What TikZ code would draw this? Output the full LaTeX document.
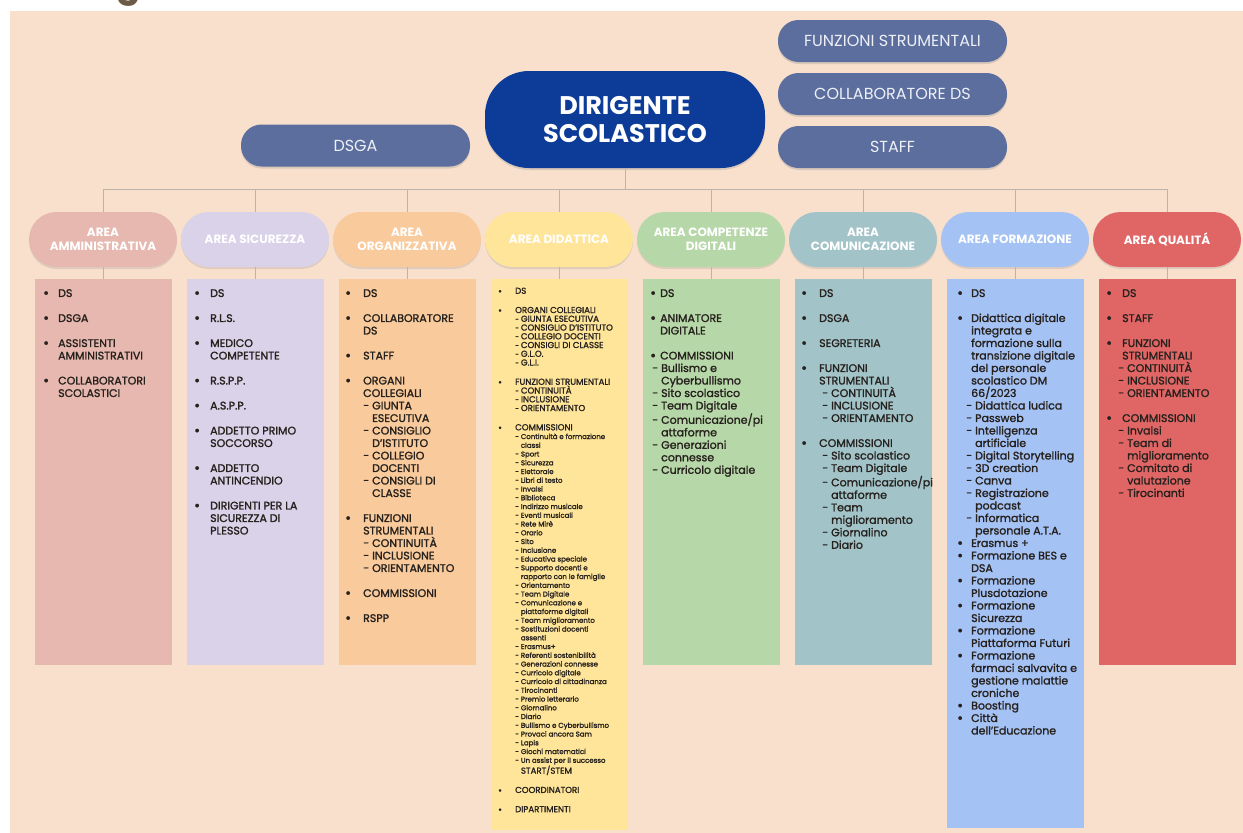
\documentclass[tikz,border=0pt]{standalone}
\usepackage{fontspec}
\setmainfont{Poppins}
\newfontfamily\listfont{Poppins}[FakeBold=1.5]
\usetikzlibrary{shadows}

\definecolor{peach}{HTML}{F8E0CD}
\definecolor{navy}{HTML}{0C3C98}
\definecolor{slate}{HTML}{5B6E9E}
\definecolor{linec}{HTML}{BDB3A9}
\definecolor{txt}{HTML}{26211D}
\definecolor{pilltxt}{HTML}{EEF0F6}
\definecolor{titlec}{HTML}{6B5A46}
\definecolor{cAmm}{HTML}{E6B8AF}
\definecolor{cSic}{HTML}{D9D2E9}
\definecolor{cOrg}{HTML}{F9CB9C}
\definecolor{cDid}{HTML}{FFE599}
\definecolor{cDig}{HTML}{B6D7A8}
\definecolor{cCom}{HTML}{A2C4C9}
\definecolor{cFor}{HTML}{A4C2F4}
\definecolor{cQua}{HTML}{E06666}

% bullet lists
\newlength\bw
\newlength\dx
\newlength\dsw
\newlength\lgap
\newcommand{\bi}[1]{\makebox[\bw][l]{\raisebox{-0.08em}{\scalebox{1.3}{\textbullet}}}#1}
\newcommand{\bc}[1]{\hspace*{\bw}#1}
\newcommand{\di}[1]{\hspace*{\dx}- #1}
\newcommand{\dc}[1]{\hspace*{\dx}\hspace*{\dsw}#1}
\newcommand{\uc}[1]{{\fontsize{8.6}{8.75}\selectfont #1}}

\tikzset{
  conn/.style={draw=linec, line width=0.7pt},
  boss/.style={fill=navy, text=white, rounded corners=44pt, minimum width=280pt,
    minimum height=97pt, inner sep=0pt, align=center,
    font=\fontsize{25.5}{28}\selectfont\bfseries,
    drop shadow={opacity=0.25, shadow xshift=0pt, shadow yshift=-2pt}},
  aux/.style={fill=slate, text=pilltxt, rounded corners=20.5pt, minimum width=229pt,
    minimum height=42pt, inner sep=0pt, font=\fontsize{16}{18}\selectfont,
    drop shadow={opacity=0.25, shadow xshift=0pt, shadow yshift=-2pt}},
  area/.style={rounded corners=27.5pt, minimum width=148pt, minimum height=55pt,
    inner sep=0pt, align=center, text=white,
    font=\fontsize{12}{14.5}\selectfont\bfseries,
    drop shadow={opacity=0.2, shadow xshift=0pt, shadow yshift=-2pt}},
  panel/.style={minimum width=137pt, inner sep=0pt, anchor=north},
  list/.style n args={5}{font={\listfont\fontsize{#1}{#2}\selectfont
    \setlength\lgap{#3pt}\setlength\bw{#4pt}\setlength\dx{#5pt}\settowidth\dsw{- }},
    align=left, inner sep=0pt, anchor=north west, text=txt}
}

\begin{document}
\begin{tikzpicture}[x=1pt, y=-1pt]
\useasboundingbox (0,0) rectangle (1243,833);
\fill[white] (0,0) rectangle (1243,833);
\fill[peach] (10,11) rectangle (1243,833);

% tail of the page title, cut by the top edge
\begin{scope}
\clip (0,0) rectangle (1243,11);
\node[font=\fontsize{36}{36}\selectfont\bfseries, text=titlec, anchor=base] (ttl) at (129,-3.5) {g};
\end{scope}

\node[boss] (ds) at (625,119.5) {DIRIGENTE\\SCOLASTICO};
\node[aux] (dsga) at (355.5,145.5) {DSGA};
\node[aux] (fs) at (892.5,41) {FUNZIONI STRUMENTALI};
\node[aux] (cds) at (892.5,94) {COLLABORATORE DS};
\node[aux] (staff) at (892.5,147) {STAFF};

\coordinate (bus) at (0,189);
\draw[conn] (ds) -- (ds |- bus);

\foreach \nm/\col/\hgt/\lbl [count=\i from 0] in {
  amm/cAmm/386/{AREA\\AMMINISTRATIVA},
  sic/cSic/386/{AREA SICUREZZA},
  org/cOrg/386/{AREA\\ORGANIZZATIVA},
  did/cDid/551/{AREA DIDATTICA},
  dig/cDig/386/{AREA COMPETENZE\\DIGITALI},
  com/cCom/386/{AREA\\COMUNICAZIONE},
  for/cFor/549/{AREA FORMAZIONE},
  qua/cQua/386/{AREA QUALITÁ}} {
  \node[area, fill=\col] (p\nm) at ({103+152*\i},239.5) {\lbl};
  \node[panel, fill=\col, minimum height=\hgt pt] (b\nm) at ({103+152*\i},279) {};
  \draw[conn] (p\nm.north) -- (p\nm.north |- bus);
  \draw[conn] (p\nm) -- (b\nm);
}
\draw[conn] (pamm.north |- bus) -- (pqua.north |- bus);

% contents of the areas
\node[list={11}{12.5}{12.5}{15}{15}] (tamm) at (43,289) {%
\bi{DS}\\[\lgap]
\bi{DSGA}\\[\lgap]
\bi{ASSISTENTI}\\
\bc{AMMINISTRATIVI}\\[\lgap]
\bi{COLLABORATORI}\\
\bc{SCOLASTICI}};

\node[list={11}{12.5}{12.5}{16}{16}] (tsic) at (194,289) {%
\bi{DS}\\[\lgap]
\bi{R.L.S.}\\[\lgap]
\bi{MEDICO}\\
\bc{COMPETENTE}\\[\lgap]
\bi{R.S.P.P.}\\[\lgap]
\bi{A.S.P.P.}\\[\lgap]
\bi{ADDETTO PRIMO}\\
\bc{SOCCORSO}\\[\lgap]
\bi{ADDETTO}\\
\bc{ANTINCENDIO}\\[\lgap]
\bi{DIRIGENTI PER LA}\\
\bc{SICUREZZA DI}\\
\bc{PLESSO}};

\node[list={11}{12.5}{12.5}{18}{18}] (torg) at (345,289) {%
\bi{DS}\\[\lgap]
\bi{COLLABORATORE}\\
\bc{DS}\\[\lgap]
\bi{STAFF}\\[\lgap]
\bi{ORGANI}\\
\bc{COLLEGIALI}\\
\di{GIUNTA}\\
\dc{ESECUTIVA}\\
\di{CONSIGLIO}\\
\dc{D’ISTITUTO}\\
\di{COLLEGIO}\\
\dc{DOCENTI}\\
\di{CONSIGLI DI}\\
\dc{CLASSE}\\[\lgap]
\bi{FUNZIONI}\\
\bc{STRUMENTALI}\\
\di{CONTINUITÀ}\\
\di{INCLUSIONE}\\
\di{ORIENTAMENTO}\\[\lgap]
\bi{COMMISSIONI}\\[\lgap]
\bi{RSPP}};

\node[list={7}{8.75}{10.5}{17}{17}] (tdid) at (498,287.5) {%
\bi{\uc{DS}}\\[\lgap]
\bi{\uc{ORGANI COLLEGIALI}}\\
\di{\uc{GIUNTA ESECUTIVA}}\\
\di{\uc{CONSIGLIO D’ISTITUTO}}\\
\di{\uc{COLLEGIO DOCENTI}}\\
\di{\uc{CONSIGLI DI CLASSE}}\\
\di{\uc{G.L.O.}}\\
\di{\uc{G.L.I.}}\\[\lgap]
\bi{\uc{FUNZIONI STRUMENTALI}}\\
\di{\uc{CONTINUITÀ}}\\
\di{\uc{INCLUSIONE}}\\
\di{\uc{ORIENTAMENTO}}\\[\lgap]
\bi{\uc{COMMISSIONI}}\\
\di{Continuità e formazione}\\
\dc{classi}\\
\di{Sport}\\
\di{Sicurezza}\\
\di{Elettorale}\\
\di{Libri di testo}\\
\di{Invalsi}\\
\di{Biblioteca}\\
\di{Indirizzo musicale}\\
\di{Eventi musicali}\\
\di{Rete Mirè}\\
\di{Orario}\\
\di{Sito}\\
\di{Inclusione}\\
\di{Educativa speciale}\\
\di{Supporto docenti e}\\
\dc{rapporto con le famiglie}\\
\di{Orientamento}\\
\di{Team Digitale}\\
\di{Comunicazione e}\\
\dc{piattaforme digitali}\\
\di{Team miglioramento}\\
\di{Sostituzioni docenti}\\
\dc{assenti}\\
\di{Erasmus+}\\
\di{Referenti sostenibilità}\\
\di{Generazioni connesse}\\
\di{Curricolo digitale}\\
\di{Curricolo di cittadinanza}\\
\di{Tirocinanti}\\
\di{Premio letterario}\\
\di{Giornalino}\\
\di{Diario}\\
\di{Bullismo e Cyberbullismo}\\
\di{Provaci ancora Sam}\\
\di{Lapis}\\
\di{Giochi matematici}\\
\di{Un assist per il successo}\\
\dc{\uc{START/STEM}}\\[\lgap]
\bi{\uc{COORDINATORI}}\\[\lgap]
\bi{\uc{DIPARTIMENTI}}};

\node[list={11}{12.5}{12.5}{10}{2}] (tdig) at (650,289) {%
\bi{DS}\\[\lgap]
\bi{ANIMATORE}\\
\bc{DIGITALE}\\[\lgap]
\bi{COMMISSIONI}\\
\di{Bullismo e}\\
\dc{Cyberbullismo}\\
\di{Sito scolastico}\\
\di{Team Digitale}\\
\di{Comunicazione/pi}\\
\dc{attaforme}\\
\di{Generazioni}\\
\dc{connesse}\\
\di{Curricolo digitale}};

\node[list={11}{12.5}{12.5}{18}{21}] (tcom) at (801,289) {%
\bi{DS}\\[\lgap]
\bi{DSGA}\\[\lgap]
\bi{SEGRETERIA}\\[\lgap]
\bi{FUNZIONI}\\
\bc{STRUMENTALI}\\
\di{CONTINUITÀ}\\
\di{INCLUSIONE}\\
\di{ORIENTAMENTO}\\[\lgap]
\bi{COMMISSIONI}\\
\di{Sito scolastico}\\
\di{Team Digitale}\\
\di{Comunicazione/pi}\\
\dc{attaforme}\\
\di{Team}\\
\dc{miglioramento}\\
\di{Giornalino}\\
\di{Diario}};

\node[list={11}{12.5}{12.5}{14}{9}] (tfor) at (957,289) {%
\bi{DS}\\[\lgap]
\bi{Didattica digitale}\\
\bc{integrata e}\\
\bc{formazione sulla}\\
\bc{transizione digitale}\\
\bc{del personale}\\
\bc{scolastico DM}\\
\bc{66/2023}\\
\di{Didattica ludica}\\
\di{Passweb}\\
\di{Intelligenza}\\
\dc{artificiale}\\
\di{Digital Storytelling}\\
\di{3D creation}\\
\di{Canva}\\
\di{Registrazione}\\
\dc{podcast}\\
\di{Informatica}\\
\dc{personale A.T.A.}\\
\bi{Erasmus +}\\
\bi{Formazione BES e}\\
\bc{DSA}\\
\bi{Formazione}\\
\bc{Plusdotazione}\\
\bi{Formazione}\\
\bc{Sicurezza}\\
\bi{Formazione}\\
\bc{Piattaforma Futuri}\\
\bi{Formazione}\\
\bc{farmaci salvavita e}\\
\bc{gestione malattie}\\
\bc{croniche}\\
\bi{Boosting}\\
\bi{Città}\\
\bc{dell’Educazione}};

\node[list={11}{12.5}{12.5}{16}{12}] (tqua) at (1106,289) {%
\bi{DS}\\[\lgap]
\bi{STAFF}\\[\lgap]
\bi{FUNZIONI}\\
\bc{STRUMENTALI}\\
\di{CONTINUITÀ}\\
\di{INCLUSIONE}\\
\di{ORIENTAMENTO}\\[\lgap]
\bi{COMMISSIONI}\\
\di{Invalsi}\\
\di{Team di}\\
\dc{miglioramento}\\
\di{Comitato di}\\
\dc{valutazione}\\
\di{Tirocinanti}};
\end{tikzpicture}
\end{document}
